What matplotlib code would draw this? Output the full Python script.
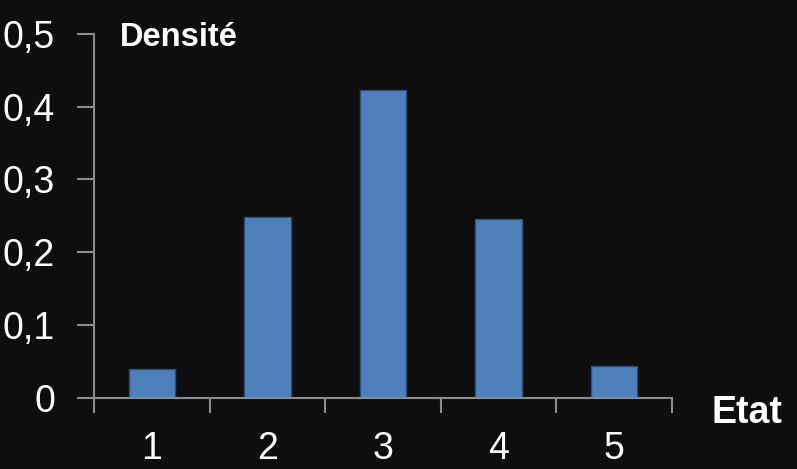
import numpy as np
import matplotlib
matplotlib.use('Agg')
import matplotlib.pyplot as plt

etats = ['1', '2', '3', '4', '5']
densite = [0.040, 0.248, 0.423, 0.245, 0.044]
yticks = [0, 0.1, 0.2, 0.3, 0.4, 0.5]
ylabels = ['0', '0,1', '0,2', '0,3', '0,4', '0,5']

bg = '#0e0e0e'
axis_col = '#8c8c8c'
plt.rcParams['font.family'] = ['Liberation Sans', 'DejaVu Sans']

fig = plt.figure(figsize=(7.97, 4.69), dpi=100, facecolor=bg)
ax = fig.add_axes([0.118, 0.152, 0.725, 0.7755])
ax.set_facecolor(bg)

x = np.arange(len(etats))
ax.bar(x, densite, width=0.4, color='#4f81bd', edgecolor='#2f4f78', linewidth=1)

ax.set_xlim(-0.5, len(etats) - 0.5)
ax.set_ylim(0, 0.5)

# category boundaries get the tick marks, labels sit at the centres
ax.set_xticks(np.arange(-0.5, len(etats), 1.0))
ax.set_xticklabels([])
ax.set_xticks(x, minor=True)
ax.set_xticklabels(etats, minor=True)
ax.tick_params(axis='x', which='major', length=11, width=1.5, color=axis_col, direction='out')
ax.tick_params(axis='x', which='minor', length=0, pad=24, labelsize=27, labelcolor='white')

ax.set_yticks(yticks)
ax.set_yticklabels(ylabels)
ax.tick_params(axis='y', length=12, width=1.5, color=axis_col, pad=16, labelsize=27, labelcolor='white')

for side in ['top', 'right']:
    ax.spines[side].set_visible(False)
for side in ['left', 'bottom']:
    ax.spines[side].set_color(axis_col)
    ax.spines[side].set_linewidth(1.5)

fig.text(120 / 797, 1 - 37 / 469, 'Densité', color='white', fontsize=23.5,
         fontweight='bold', ha='left', va='center')
fig.text(711 / 797, 1 - 413 / 469, 'Etat', color='white', fontsize=27,
         fontweight='bold', ha='left', va='center')

fig.savefig('out.png', dpi=100, facecolor=bg)
